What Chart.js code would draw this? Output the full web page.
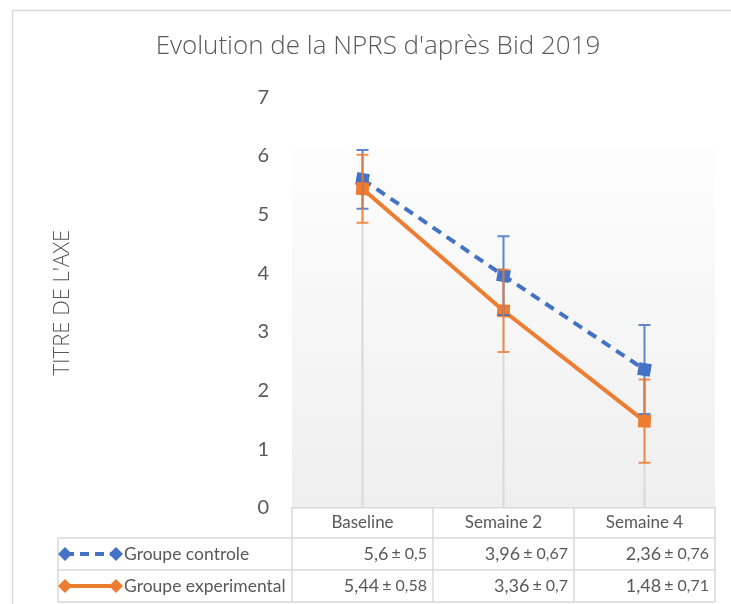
<!DOCTYPE html>
<html>
<head>
<meta charset="utf-8">
<title>Evolution de la NPRS</title>
<script src="https://cdn.jsdelivr.net/npm/chart.js@4.4.1/dist/chart.umd.min.js"></script>
<style>
  html, body { margin: 0; padding: 0; background: #ffffff; }
  #wrap { width: 731px; height: 604px; }
</style>
</head>
<body>
<div id="wrap"><canvas id="nprsChart" width="731" height="604"></canvas></div>
<script>
// NPRS means and standard deviations per time point
const categories = ['Baseline', 'Semaine 2', 'Semaine 4'];
const controlMeans = [5.6, 3.96, 2.36];
const controlSd = [0.5, 0.67, 0.76];
const expMeans = [5.44, 3.36, 1.48];
const expSd = [0.58, 0.7, 0.71];
const yTicks = [0, 1, 2, 3, 4, 5, 6, 7];

const FONT = 'Lato, "Open Sans", sans-serif';
const LIGHT = '"Open Sans", Lato, sans-serif';
const TEXT = '#595959';
const LINE = '#d9d9d9';

const series = [
    { name: 'Groupe controle', color: '#4472C4', dash: [10, 7], means: controlMeans, sds: controlSd },
    { name: 'Groupe experimental', color: '#ED7D31', dash: [], means: expMeans, sds: expSd }
];

const fmt = v => String(v).replace('.', ',');

// frame + plot area shading
const backdrop = {
    id: 'backdrop',
    beforeDraw(chart) {
        const { ctx, chartArea: a } = chart;
        ctx.save();
        ctx.strokeStyle = LINE;
        ctx.lineWidth = 1.5;
        ctx.beginPath();
        ctx.moveTo(12.5, chart.height);
        ctx.lineTo(12.5, 10.5);
        ctx.lineTo(chart.width, 10.5);
        ctx.stroke();

        const top = a.top + 53;
        const g = ctx.createLinearGradient(0, top, 0, a.bottom);
        g.addColorStop(0, '#fdfdfd');
        g.addColorStop(1, '#efefef');
        ctx.fillStyle = g;
        ctx.fillRect(a.left, top, a.right - a.left, a.bottom - top);
        ctx.restore();
    }
};

// drop lines from the highest point of each category to the axis
const dropLines = {
    id: 'dropLines',
    beforeDatasetsDraw(chart) {
        const { ctx, chartArea: a, scales: { x, y } } = chart;
        ctx.save();
        ctx.strokeStyle = LINE;
        ctx.lineWidth = 2;
        categories.forEach((c, i) => {
            const px = x.getPixelForValue(i);
            const hi = Math.max(...series.map(s => s.means[i]));
            ctx.beginPath();
            ctx.moveTo(px, y.getPixelForValue(hi));
            ctx.lineTo(px, a.bottom);
            ctx.stroke();
        });
        ctx.restore();
    }
};

// +/- sd error bars
const errorBars = {
    id: 'errorBars',
    afterDatasetsDraw(chart) {
        const { ctx, scales: { x, y } } = chart;
        ctx.save();
        ctx.lineWidth = 2;
        ctx.globalAlpha = 0.85;
        series.forEach(s => {
            ctx.strokeStyle = s.color;
            s.means.forEach((m, i) => {
                const px = x.getPixelForValue(i);
                const hi = y.getPixelForValue(m + s.sds[i]);
                const lo = y.getPixelForValue(m - s.sds[i]);
                ctx.beginPath();
                ctx.moveTo(px, hi);
                ctx.lineTo(px, lo);
                ctx.moveTo(px - 6, hi);
                ctx.lineTo(px + 6, hi);
                ctx.moveTo(px - 6, lo);
                ctx.lineTo(px + 6, lo);
                ctx.stroke();
            });
        });
        ctx.restore();
    }
};

function diamond(ctx, cx, cy, r, color) {
    ctx.fillStyle = color;
    ctx.beginPath();
    ctx.moveTo(cx, cy - r);
    ctx.lineTo(cx + r, cy);
    ctx.lineTo(cx, cy + r);
    ctx.lineTo(cx - r, cy);
    ctx.closePath();
    ctx.fill();
}

// data table under the category axis
const dataTable = {
    id: 'dataTable',
    afterDraw(chart) {
        const { ctx, chartArea: a, scales: { x } } = chart;
        const colW = (a.right - a.left) / categories.length;
        const rows = [a.bottom, a.bottom + 30, a.bottom + 62, a.bottom + 94];
        const legendLeft = 58;

        ctx.save();
        ctx.strokeStyle = LINE;
        ctx.lineWidth = 1.5;
        ctx.beginPath();
        for (let r = 1; r < rows.length; r++) {
            ctx.moveTo(legendLeft, rows[r]);
            ctx.lineTo(a.right, rows[r]);
        }
        for (let i = 0; i <= categories.length; i++) {
            const cx = a.left + i * colW;
            ctx.moveTo(cx, rows[0]);
            ctx.lineTo(cx, rows[3]);
        }
        ctx.moveTo(legendLeft, rows[1]);
        ctx.lineTo(legendLeft, rows[3]);
        ctx.stroke();

        ctx.fillStyle = TEXT;
        ctx.textBaseline = 'middle';
        ctx.textAlign = 'center';
        ctx.font = '17px ' + FONT;
        categories.forEach((c, i) => {
            ctx.fillText(c, x.getPixelForValue(i), (rows[0] + rows[1]) / 2);
        });

        series.forEach((s, k) => {
            const cy = (rows[k + 1] + rows[k + 2]) / 2;
            // legend key
            ctx.strokeStyle = s.color;
            ctx.lineWidth = 4;
            ctx.setLineDash(s.dash.length ? [9, 6] : []);
            ctx.beginPath();
            ctx.moveTo(65, cy);
            ctx.lineTo(116, cy);
            ctx.stroke();
            ctx.setLineDash([]);
            diamond(ctx, 65, cy, 7, s.color);
            diamond(ctx, 116, cy, 7, s.color);

            ctx.fillStyle = TEXT;
            ctx.textAlign = 'left';
            ctx.font = '17.5px ' + FONT;
            ctx.fillText(s.name, 124, cy);

            // mean ± sd
            s.means.forEach((m, i) => {
                const right = a.left + (i + 1) * colW - 6;
                const sdText = '± ' + fmt(s.sds[i]);
                ctx.textAlign = 'right';
                ctx.font = '16px ' + FONT;
                const w = ctx.measureText(sdText).width;
                ctx.fillText(sdText, right, cy);
                ctx.font = '18px ' + FONT;
                ctx.fillText(fmt(m), right - w - 3, cy);
            });
        });
        ctx.restore();
    }
};

const ctx = document.getElementById('nprsChart').getContext('2d');
const nprsChart = new Chart(ctx, {
    type: 'line',
    data: {
        labels: categories,
        datasets: series.map((s, k) => ({
            label: s.name,
            data: s.means,
            borderColor: s.color,
            backgroundColor: s.color,
            borderWidth: 4,
            borderDash: s.dash,
            pointStyle: 'rect',
            pointRadius: 9,
            pointRotation: k === 0 ? 10 : 3,
            pointBorderWidth: 0,
            pointBackgroundColor: s.color,
            tension: 0,
            order: k === 0 ? 2 : 1
        }))
    },
    options: {
        responsive: false,
        devicePixelRatio: 1,
        animation: false,
        layout: { padding: { left: 41, right: 16, top: 0, bottom: 0 } },
        scales: {
            x: {
                offset: true,
                grid: { display: false, drawTicks: false },
                ticks: { display: false },
                border: { display: true, color: LINE, width: 1.5 },
                afterFit: scale => { scale.height = 96; }
            },
            y: {
                min: 0,
                max: 7,
                afterBuildTicks: scale => { scale.ticks = yTicks.map(v => ({ value: v })); },
                grid: { display: false, drawTicks: false },
                border: { display: false },
                ticks: { color: TEXT, padding: 23, font: { family: FONT, size: 20 } },
                title: {
                    display: true,
                    text: "TITRE DE L'AXE",
                    color: TEXT,
                    font: { family: LIGHT, size: 22, weight: '300' },
                    padding: { top: 9, bottom: 0 }
                },
                afterFit: scale => { scale.width = 251; }
            }
        },
        plugins: {
            legend: { display: false },
            tooltip: { enabled: false },
            title: {
                display: true,
                text: "Evolution de la NPRS d'après Bid 2019",
                color: TEXT,
                font: { family: LIGHT, size: 26, weight: '300' },
                padding: { top: 31, bottom: 35 }
            }
        }
    },
    plugins: [backdrop, dropLines, errorBars, dataTable]
});
</script>
</body>
</html>
